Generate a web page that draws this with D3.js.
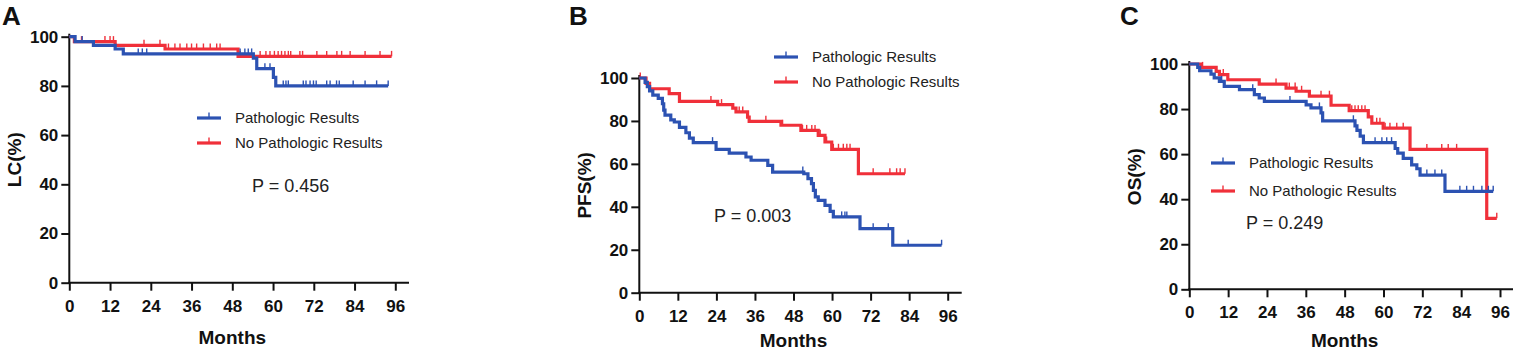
<!DOCTYPE html>
<html>
<head>
<meta charset="utf-8">
<script src="https://cdn.jsdelivr.net/npm/d3@7"></script>
<style>
  body { margin: 0; background: #fff; }
  svg { display: block; font-family: "Liberation Sans", Arial, sans-serif; }
</style>
</head>
<body>
<div id="chart"></div>
<script>
// tick labels
let monthTicks = [0, 12, 24, 36, 48, 60, 72, 84, 96]
let pctTicks = [0, 20, 40, 60, 80, 100]
let groupNames = ['Pathologic Results', 'No Pathologic Results']
let groupColors = ['#2c52b2', '#f0303a']

let panelLetters = ['A', 'B', 'C']
let yTitles = ['LC(%)', 'PFS(%)', 'OS(%)']
let pLabels = ['P = 0.456', 'P = 0.003', 'P = 0.249']

// Kaplan-Meier steps: [month, survival % after that month]
let lcPathSteps = [[0, 100], [1.7, 98], [7.1, 96.5], [13.5, 95], [15.9, 93], [54.2, 91.3], [55.2, 87], [60.1, 83.5], [60.8, 80]]
let lcPathCensor = [3.8, 20.3, 21.5, 22.8, 50.3, 51.7, 52.7, 53.7, 57.6, 59.1, 63.0, 63.8, 64.5, 68.9, 69.7, 70.9, 71.9, 72.7, 75.8, 76.8, 78.7, 79.5, 83.6, 87.1, 90.5, 93.9]
let lcNoPathSteps = [[0, 100], [1.5, 98], [13.5, 96.5], [28.2, 95], [49.7, 92]]
let lcNoPathCensor = [3.6, 10.5, 12, 13, 22, 26.7, 29.2, 31.1, 32.6, 34.6, 36, 37.5, 39.5, 41.5, 43.4, 44.4, 50.3, 56.2, 57.9, 59.1, 60.4, 61.5, 62.5, 63.5, 64.5, 65.2, 67.9, 68.7, 72.9, 75.8, 78.8, 80.2, 82.7, 87.1, 91.5, 94.9]

let pfsPathSteps = [[0, 100], [1.8, 98], [2.5, 96], [3.2, 94], [4.2, 92], [5.9, 90.5], [7.2, 88], [7.6, 85], [8.0, 82.7], [9.8, 80.5], [10.9, 79.5], [12.5, 77], [14.5, 74.5], [15.6, 72], [16.8, 69.9], [23.9, 66.8], [28, 65], [33.2, 63.2], [34.8, 61.7], [40, 59.3], [41.5, 56.2], [51.2, 55.4], [52.5, 53.1], [53.6, 50.8], [54.2, 47.7], [54.8, 44.6], [55.7, 43], [57.8, 40.7], [59.4, 37.9], [60.4, 35.3], [68.7, 29.8], [78.9, 22.1]]
let pfsPathCensor = [22.8, 50.9, 63.0, 64.0, 64.6, 72.8, 77.5, 83.7, 94.1]
let pfsNoPathSteps = [[0, 100], [2.1, 97.5], [3.2, 95], [9.3, 92.7], [12.5, 89.1], [24.4, 87.6], [29.1, 86], [30.1, 84.2], [33.7, 81.8], [34.2, 79.8], [44.1, 78], [50.3, 75.6], [55.7, 73.3], [57.8, 70.2], [59.9, 66.8], [68.2, 55.4]]
let pfsNoPathCensor = [0.3, 22.3, 25.6, 31.1, 32.2, 39.4, 44.6, 50.8, 52.1, 53.7, 54.7, 56.3, 58.3, 60.4, 62.0, 63.5, 64.6, 65.6, 72.8, 78.0, 80.1, 81.2, 82.7]

let osPathSteps = [[0, 100], [2.6, 98.5], [3.2, 97], [6.7, 95.5], [7.7, 93.8], [9.3, 92.3], [10.8, 90.1], [15.5, 88.6], [20.1, 86.4], [21.6, 84.9], [23.2, 83.4], [36.1, 81.9], [37.6, 80.5], [40.7, 78.3], [41.2, 74.8], [51.2, 72.5], [51.8, 70.5], [52.8, 68], [53.8, 65.1], [63.6, 62.5], [64.4, 60.4], [66.1, 58.1], [68.7, 55.2], [70.3, 53.5], [71.3, 50.7], [79.0, 43.5]]
let osPathCensor = [10.0, 19.6, 31.1, 40.2, 50.7, 57.4, 59.5, 61.0, 62.5, 73.4, 75.9, 78.0, 83.6, 85.7, 87.8, 90.4, 92.4, 93.9]
let osNoPathSteps = [[0, 100], [3.6, 98.5], [8.3, 96.7], [9.3, 95.3], [11.9, 93], [21.6, 91.1], [29.9, 89.3], [33, 87.9], [37.1, 85.7], [43.8, 81.7], [49.4, 79.3], [55.3, 76.5], [56.4, 73.7], [59.9, 71.5], [68.2, 62.1], [91.9, 31.5]]
let osNoPathCensor = [4.1, 10.5, 26.8, 30.9, 32.7, 34.7, 40.7, 43.3, 50.2, 51.2, 52.2, 53.3, 54.3, 57.9, 58.9, 60.5, 62.0, 64.1, 66.1, 73.4, 78.0, 80.0, 82.6, 95.0]

let panelSeries = [
  [[lcPathSteps, lcPathCensor], [lcNoPathSteps, lcNoPathCensor]],
  [[pfsPathSteps, pfsPathCensor], [pfsNoPathSteps, pfsNoPathCensor]],
  [[osPathSteps, osPathCensor], [osNoPathSteps, osNoPathCensor]]
]

// where each panel sits on the page
let layout = [
  {x0: 69.3, x96: 395.3, xEnd: 409, yTop: 36.7, yBot: 282.7, legX: 197, legY: 118, legGap: 25, pX: 252, pY: 186, letterX: 2, monthsY: 337},
  {x0: 639.3, x96: 947.7, xEnd: 961.7, yTop: 78, yBot: 292.7, legX: 774, legY: 57, legGap: 25, pX: 714, pY: 216, letterX: 569, monthsY: 340},
  {x0: 1189.3, x96: 1500, xEnd: 1513, yTop: 64, yBot: 289.3, legX: 1211, legY: 163, legGap: 28, pX: 1246, pY: 223, letterX: 1120, monthsY: 340}
]

let svg = d3.select('#chart')
  .append('svg')
  .attr('width', 1518)
  .attr('height', 353)

function survivalAt(steps, t) {
  let s = steps[0][1]
  steps.forEach(function(d) {
    if (d[0] <= t) s = d[1]
  })
  return s
}

layout.forEach(function(L, i) {
  let g = svg.append('g')

  let x = d3.scaleLinear().domain([0, 96]).range([L.x0, L.x96])
  let y = d3.scaleLinear().domain([0, 100]).range([L.yBot, L.yTop])

  // x axis
  let xAxis = g.append('g')
    .attr('transform', 'translate(0,' + L.yBot + ')')
    .call(d3.axisBottom(x).tickValues(monthTicks).tickSize(8).tickSizeOuter(0).tickPadding(9))
  xAxis.select('.domain').remove()
  xAxis.selectAll('line').attr('stroke', '#111').attr('stroke-width', 2)
  xAxis.selectAll('text')
    .attr('font-size', 17).attr('font-weight', 'bold').attr('fill', '#111')
    .attr('font-family', '"Liberation Sans", Arial, sans-serif')
  g.append('line')
    .attr('x1', L.x0 - 1).attr('x2', L.xEnd)
    .attr('y1', L.yBot).attr('y2', L.yBot)
    .attr('stroke', '#111').attr('stroke-width', 2)

  // y axis
  let yAxis = g.append('g')
    .attr('transform', 'translate(' + L.x0 + ',0)')
    .call(d3.axisLeft(y).tickValues(pctTicks).tickSize(8).tickSizeOuter(0).tickPadding(3))
  yAxis.select('.domain').remove()
  yAxis.selectAll('line').attr('stroke', '#111').attr('stroke-width', 2)
  yAxis.selectAll('text')
    .attr('font-size', 17).attr('font-weight', 'bold').attr('fill', '#111')
    .attr('font-family', '"Liberation Sans", Arial, sans-serif')
  g.append('line')
    .attr('x1', L.x0).attr('x2', L.x0)
    .attr('y1', L.yTop - 3).attr('y2', L.yBot + 1)
    .attr('stroke', '#111').attr('stroke-width', 2)

  // axis titles
  g.append('text')
    .attr('x', (L.x0 + L.x96) / 2)
    .attr('y', L.monthsY)
    .attr('dy', '0.35em')
    .attr('text-anchor', 'middle')
    .attr('font-size', 19).attr('font-weight', 'bold').attr('fill', '#111')
    .text('Months')

  g.append('text')
    .attr('transform', 'translate(' + (L.x0 - 55) + ',' + (L.yTop + L.yBot) / 2 + ') rotate(-90)')
    .attr('dy', '0.35em')
    .attr('text-anchor', 'middle')
    .attr('font-size', 19).attr('font-weight', 'bold').attr('fill', '#111')
    .text(yTitles[i])

  // panel letter
  g.append('text')
    .attr('x', L.letterX)
    .attr('y', 25)
    .attr('font-size', 26).attr('font-weight', 'bold').attr('fill', '#111')
    .text(panelLetters[i])

  let line = d3.line()
    .x(function(d) { return x(d[0]) })
    .y(function(d) { return y(d[1]) })
    .curve(d3.curveStepAfter)

  // draw red (no pathologic) first, then blue on top
  ;[1, 0].forEach(function(k) {
    let steps = panelSeries[i][k][0]
    let censor = panelSeries[i][k][1]
    let tEnd = d3.max(censor)
    let pts = steps.concat([[tEnd, steps[steps.length - 1][1]]])

    g.append('path')
      .datum(pts)
      .attr('d', line)
      .attr('fill', 'none')
      .attr('stroke', groupColors[k])
      .attr('stroke-width', 3.2)

    g.selectAll('.censor' + k)
      .data(censor)
      .enter()
      .append('line')
      .attr('class', 'censor' + k)
      .attr('x1', function(d) { return x(d) })
      .attr('x2', function(d) { return x(d) })
      .attr('y1', function(d) { return y(survivalAt(steps, d)) })
      .attr('y2', function(d) { return y(survivalAt(steps, d)) - 5.5 })
      .attr('stroke', groupColors[k])
      .attr('stroke-width', 1.4)
  })

  // legend
  let legend = g.selectAll('.legend')
    .data(groupNames)
    .enter()
    .append('g')
    .attr('class', 'legend')
    .attr('transform', function(d, j) {
      return 'translate(' + L.legX + ',' + (L.legY + j * L.legGap) + ')'
    })

  legend.append('line')
    .attr('x1', 0).attr('x2', 24)
    .attr('stroke', function(d, j) { return groupColors[j] })
    .attr('stroke-width', 3.2)
  legend.append('line')
    .attr('x1', 12).attr('x2', 12)
    .attr('y1', 0).attr('y2', -5.5)
    .attr('stroke', function(d, j) { return groupColors[j] })
    .attr('stroke-width', 1.4)
  legend.append('text')
    .attr('x', 38)
    .attr('dy', '0.35em')
    .attr('font-size', 15).attr('fill', '#222')
    .text(function(d) { return d })

  // p value
  g.append('text')
    .attr('x', L.pX)
    .attr('y', L.pY)
    .attr('dy', '0.35em')
    .attr('font-size', 18).attr('fill', '#222')
    .text(pLabels[i])
})
</script>
</body>
</html>
